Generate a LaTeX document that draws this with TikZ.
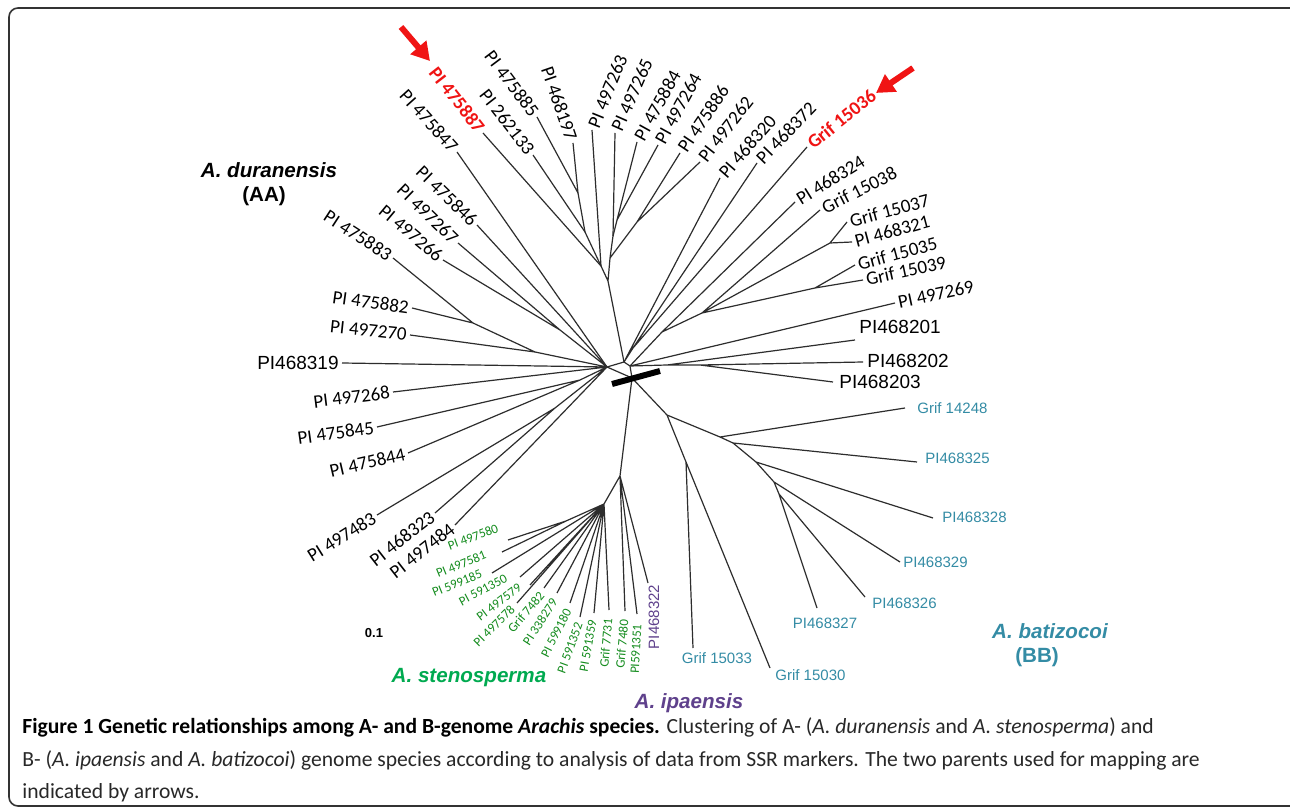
\documentclass[tikz,border=0pt]{standalone}
\usepackage{fontspec}
\setmainfont{Carlito}
\newfontfamily\calib{Carlito}
\newfontfamily\arial{Liberation Sans}
\usetikzlibrary{arrows.meta}
\definecolor{brc}{RGB}{45,45,45}
\definecolor{tealc}{RGB}{52,140,165}
\definecolor{grnl}{RGB}{20,140,30}
\definecolor{grnsp}{RGB}{0,170,80}
\definecolor{purc}{RGB}{95,65,140}
\definecolor{redc}{RGB}{240,20,20}
\definecolor{capc}{RGB}{40,40,40}
\begin{document}
\begin{tikzpicture}[x=0.5pt,y=-0.5pt,
 br/.style={draw=brc,line width=0.6pt},
 blk/.style={font=\calib\fontsize{9.5}{11}\selectfont,inner sep=1.5pt},
 redl/.style={font=\calib\bfseries\fontsize{9.5}{11}\selectfont,text=redc,inner sep=1.5pt},
 ari/.style={font=\arial\fontsize{9.5}{11}\selectfont,inner sep=1.5pt},
 blu/.style={font=\arial\fontsize{7.5}{9}\selectfont,text=tealc,inner sep=1.5pt},
 grn/.style={font=\calib\fontsize{6.5}{8}\selectfont,text=grnl,inner sep=0pt},
 pur/.style={font=\arial\fontsize{7.5}{9}\selectfont,text=purc,inner sep=0pt},
 spc/.style={font=\arial\bfseries\itshape\fontsize{10.3}{12}\selectfont,inner sep=0pt},
 spu/.style={font=\arial\bfseries\fontsize{10.3}{12}\selectfont,inner sep=0pt},
 redarrow/.style={draw=redc,line width=3pt,-{Triangle[length=9pt,width=10pt]}},
 capl/.style={font=\calib\fontsize{10.8}{12}\selectfont,text=capc,anchor=base west,inner sep=0pt}]
\useasboundingbox (0,0) rectangle (1290,812);
\begin{scope}
\clip (0,0) rectangle (1290,812);
\fill[white] (0,0) rectangle (1290,812);
\draw[line width=0.8pt,black!80,rounded corners=4.5pt] (9,8) rectangle (1302,806);
\end{scope}

% ---------- internal nodes ----------
\coordinate (HL) at (607,367);
\coordinate (HT) at (624,362);
\coordinate (HR) at (630,366);
\coordinate (HB) at (632,378);
\coordinate (U0) at (608,281);
\coordinate (U1) at (601,266);
\coordinate (U3) at (610,258);
\coordinate (U2) at (613,236);
\coordinate (U5) at (617,220);
\coordinate (U4) at (637,222);
\coordinate (U7) at (585,232);
\coordinate (U8) at (578,193);
\coordinate (R1) at (633,348);
\coordinate (R2) at (662,332);
\coordinate (R3) at (702,313);
\coordinate (F1) at (830,243);
\coordinate (F2) at (815,288);
\coordinate (R4) at (667,365);
\coordinate (R5) at (700,365);
\coordinate (L1) at (473,323);
\coordinate (L2) at (535,352);
\coordinate (L3) at (560,330);
\coordinate (L5) at (580,380);
\coordinate (L6) at (555,408);
\coordinate (Bt1) at (667,415);
\coordinate (Bt2) at (686,462);
\coordinate (Bt3) at (720,437);
\coordinate (Bt4) at (733,443);
\coordinate (Bt5) at (756,462);
\coordinate (Bt6) at (774,482);
\coordinate (Bt7) at (779,494);
\coordinate (B1) at (620,476);
\coordinate (S1) at (604,504);
\coordinate (S2) at (566,521);

% ---------- leaves: A. duranensis, top ----------
\coordinate (pA1) at (457,152); \node[blk,rotate=-48,anchor=east] (nA1) at (pA1) {PI 475847};
\coordinate (pA2) at (483,133); \node[redl,rotate=-52,anchor=east] (nA2) at (pA2) {PI 475887};
\coordinate (pA3) at (533,155); \node[blk,rotate=-52,anchor=east] (nA3) at (pA3) {PI 262133};
\coordinate (pA4) at (537,117); \node[blk,rotate=-53,anchor=east] (nA4) at (pA4) {PI 475885};
\coordinate (pA5) at (573,143); \node[blk,rotate=-71,anchor=east] (nA5) at (pA5) {PI 468197};
\coordinate (pA6) at (592,130); \node[blk,rotate=68,anchor=west] (nA6) at (pA6) {PI 497263};
\coordinate (pA7) at (615,133); \node[blk,rotate=66,anchor=west] (nA7) at (pA7) {PI 497265};
\coordinate (pA8) at (637,142); \node[blk,rotate=61,anchor=west] (nA8) at (pA8) {PI 475884};
\coordinate (pA9) at (658,145); \node[blk,rotate=61,anchor=west] (nA9) at (pA9) {PI 497264};
\coordinate (pA10) at (680,153); \node[blk,rotate=56,anchor=west] (nA10) at (pA10) {PI 475886};
\coordinate (pA11) at (700,162); \node[blk,rotate=52,anchor=west] (nA11) at (pA11) {PI 497262};
\coordinate (pA12) at (720,178); \node[blk,rotate=49,anchor=west] (nA12) at (pA12) {PI 468320};
\coordinate (pA13) at (757,163); \node[blk,rotate=46,anchor=west] (nA13) at (pA13) {PI 468372};
\coordinate (pA14) at (807,147); \node[redl,rotate=39,anchor=west] (nA14) at (pA14) {Grif 15036};
\coordinate (pA15) at (795,202); \node[blk,rotate=32,anchor=west] (nA15) at (pA15) {PI 468324};
\coordinate (pA16) at (820,210); \node[blk,rotate=27,anchor=west] (nA16) at (pA16) {Grif 15038};
\coordinate (pA17) at (847,222); \node[blk,rotate=15,anchor=west] (nA17) at (pA17) {Grif 15037};
\coordinate (pA18) at (852,242); \node[blk,rotate=15,anchor=west] (nA18) at (pA18) {PI 468321};
\coordinate (pA19) at (855,265); \node[blk,rotate=15,anchor=west] (nA19) at (pA19) {Grif 15035};
\coordinate (pA20) at (863,280); \node[blk,rotate=12,anchor=west] (nA20) at (pA20) {Grif 15039};
\coordinate (pA21) at (895,303); \node[blk,rotate=12,anchor=west] (nA21) at (pA21) {PI 497269};
\coordinate (pA22) at (855,340); \node[ari,anchor=west] (nA22) at (856,327) {PI468201};
\coordinate (pA23) at (863,362); \node[ari,anchor=west] (nA23) at (864,361) {PI468202};
\coordinate (pA24) at (833,382); \node[ari,anchor=west] (nA24) at (836,382) {PI468203};

% ---------- leaves: A. duranensis, left ----------
\coordinate (pL1) at (477,225); \node[blk,rotate=-44,anchor=east] (nL1) at (pL1) {PI 475846};
\coordinate (pL2) at (458,243); \node[blk,rotate=-44,anchor=east] (nL2) at (pL2) {PI 497267};
\coordinate (pL3) at (443,260); \node[blk,rotate=-40,anchor=east] (nL3) at (pL3) {PI 497266};
\coordinate (pL4) at (393,258); \node[blk,rotate=-33,anchor=east] (nL4) at (pL4) {PI 475883};
\coordinate (pL5) at (412,308); \node[blk,rotate=-8,anchor=east] (nL5) at (pL5) {PI 475882};
\coordinate (pL6) at (410,335); \node[blk,rotate=-6,anchor=east] (nL6) at (pL6) {PI 497270};
\coordinate (pL7) at (342,363); \node[ari,anchor=east] (nL7) at (pL7) {PI468319};
\coordinate (pL8) at (393,392); \node[blk,rotate=7,anchor=east] (nL8) at (pL8) {PI 497268};
\coordinate (pL9) at (377,427); \node[blk,rotate=8,anchor=east] (nL9) at (pL9) {PI 475845};
\coordinate (pL10) at (408,453); \node[blk,rotate=13,anchor=east] (nL10) at (pL10) {PI 475844};
\coordinate (pL11) at (377,515); \node[blk,rotate=32,anchor=east] (nL11) at (pL11) {PI 497483};
\coordinate (pL12) at (435,513); \node[blk,rotate=38,anchor=east] (nL12) at (pL12) {PI 468323};
\coordinate (pL13) at (455,525); \node[blk,rotate=38,anchor=east] (nL13) at (pL13) {PI 497484};

% ---------- leaves: B genome ----------
\coordinate (pB1) at (693,648); \node[blu,anchor=north] (nB1) at (717,649) {Grif 15033};
\coordinate (pB2) at (770,668); \node[blu,anchor=west] (nB2) at (772,675) {Grif 15030};
\coordinate (pB3) at (905,408); \node[blu,anchor=west] (nB3) at (914,408) {Grif 14248};
\coordinate (pB4) at (917,462); \node[blu,anchor=west] (nB4) at (922,458) {PI468325};
\coordinate (pB5) at (933,518); \node[blu,anchor=west] (nB5) at (939,517) {PI468328};
\coordinate (pB6) at (900,562); \node[blu,anchor=west] (nB6) at (900,562) {PI468329};
\coordinate (pB7) at (865,597); \node[blu,anchor=west] (nB7) at (869,603) {PI468326};
\coordinate (pB8) at (817,608); \node[blu,anchor=north] (nB8) at (825,615) {PI468327};
\coordinate (pP) at (648,583); \node[pur,rotate=90] (nP) at (654,617) {PI468322};

% ---------- leaves: A. stenosperma ----------
\coordinate (g1) at (508,540); \node[grn,rotate=20] (ng1) at (473,537) {PI 497580};
\coordinate (g2) at (502,552); \node[grn,rotate=22] (ng2) at (461,564) {PI 497581};
\coordinate (g3) at (492,573); \node[grn,rotate=22] (ng3) at (457,583) {PI 599185};
\coordinate (g4) at (520,577); \node[grn,rotate=28] (ng4) at (483,590) {PI 591350};
\coordinate (g5) at (530,585); \node[grn,rotate=37] (ng5) at (499,602) {PI 497579};
\coordinate (g6) at (517,603); \node[grn,rotate=45] (ng6) at (494,626) {PI 497578};
\coordinate (g7) at (544,588); \node[grn,rotate=50] (ng7) at (526,612) {Grif 7482};
\coordinate (g8) at (557,593); \node[grn,rotate=57] (ng8) at (540,622) {PI 338279};
\coordinate (g9) at (570,603); \node[grn,rotate=63] (ng9) at (556,633) {PI 599180};
\coordinate (g10) at (580,617); \node[grn,rotate=70] (ng10) at (570,648) {PI 591352};
\coordinate (g11) at (594,613); \node[grn,rotate=80] (ng11) at (588,646) {PI 591359};
\coordinate (g12) at (609,610); \node[grn,rotate=85] (ng12) at (606,643) {Grif 7731};
\coordinate (g13) at (625,611); \node[grn,rotate=85] (ng13) at (622,644) {Grif 7480};
\coordinate (g14) at (637,614); \node[grn,rotate=87] (ng14) at (636,649) {PI591351};

% ---------- branches ----------
\draw[br] (HL) -- (HT) -- (HR) -- (HB) -- (HL);
\draw[br] (HT) -- (U0) (U0) -- (U1) (U0) -- (U3) (U3) -- (U2) (U3) -- (U4) (U2) -- (U5)
  (U1) -- (U7) (U7) -- (U8);
\draw[br] (U1) -- (pA2) (U7) -- (pA3) (U8) -- (pA4) (U8) -- (pA5) (U1) -- (pA6)
  (U2) -- (pA7) (U5) -- (pA8) (U5) -- (pA9) (U4) -- (pA10) (U4) -- (pA11);
\draw[br] (HL) -- (pA1);
\draw[br] (HT) -- (pA12) (HT) -- (R1) (R1) -- (pA13) (R1) -- (pA14);
\draw[br] (HR) -- (R2) (R2) -- (pA15) (R2) -- (R3) (R3) -- (pA16) (R3) -- (F1)
  (F1) -- (pA17) (F1) -- (pA18) (R3) -- (F2) (F2) -- (pA19) (F2) -- (pA20);
\draw[br] (HR) -- (pA21) (HR) -- (R4) (R4) -- (R5) (R5) -- (pA23) (R4) -- (pA22) (R5) -- (pA24);
\draw[br] (HL) -- (pL1) (HL) -- (L3) (L3) -- (pL2) (L3) -- (pL3) (HL) -- (L2) (L2) -- (L1)
  (L1) -- (pL4) (L1) -- (pL5) (L2) -- (pL6) (HL) -- (pL7) (HL) -- (pL8) (HL) -- (L5)
  (L5) -- (pL9) (L5) -- (pL10) (HL) -- (L6) (L6) -- (pL11) (L6) -- (pL12) (HL) -- (pL13);
\draw[br] (HB) -- (Bt1) (Bt1) -- (Bt2) (Bt2) -- (pB1) (Bt2) -- (pB2) (Bt1) -- (Bt3)
  (Bt3) -- (pB3) (Bt3) -- (Bt4) (Bt4) -- (pB4) (Bt4) -- (Bt5) (Bt5) -- (pB5) (Bt5) -- (Bt6)
  (Bt6) -- (pB6) (Bt6) -- (Bt7) (Bt7) -- (pB7) (Bt7) -- (pB8);
\draw[br] (HB) -- (B1) (B1) -- (S1) (S1) -- (S2) (S2) -- (g1) (S2) -- (g2)
  (S1) -- (g3) (S1) -- (g4) (S1) -- (g5) (S1) -- (g6) (S1) -- (g7) (S1) -- (g8)
  (S1) -- (g9) (S1) -- (g10) (S1) -- (g11) (S1) -- (g12)
  (B1) -- (g13) (B1) -- (g14) (B1) -- (pP);

% ---------- scale bar ----------
\coordinate (bar1) at (612,384); \coordinate (bar2) at (660,371);
\draw[line width=3pt] (bar1) -- (bar2);
\node[font=\arial\bfseries\fontsize{6.5}{8}\selectfont,inner sep=0pt] (sc) at (374,633) {0.1};

% ---------- species ----------
\node[spc] (spA) at (269,170) {A. duranensis};
\node[spu] (spAA) at (264,196) {(AA)};
\node[spc,text=grnsp] (spS) at (469,678) {A. stenosperma};
\node[spc,text=purc] (spI) at (689,703) {A. ipaensis};
\node[spc,text=tealc] (spB) at (1050,631) {A. batizocoi};
\node[spu,text=tealc] (spBB) at (1037,657) {(BB)};

% ---------- arrows ----------
\coordinate (ar1a) at (401,27); \coordinate (ar1b) at (430,61);
\draw[redarrow] (ar1a) -- (ar1b);
\coordinate (ar2a) at (913,68); \coordinate (ar2b) at (876,93);
\draw[redarrow] (ar2a) -- (ar2b);

% ---------- caption ----------
\node[capl] (c1) at (22,733) {\textbf{\color{black}Figure 1 Genetic relationships among A- and B-genome \textit{Arachis} species.} Clustering of A- (\textit{A. duranensis} and \textit{A. stenosperma}) and};
\node[capl] (c2) at (22,766) {B- (\textit{A. ipaensis} and \textit{A. batizocoi}) genome species according to analysis of data from SSR markers. The two parents used for mapping are};
\node[capl] (c3) at (22,798) {indicated by arrows.};
\end{tikzpicture}
\end{document}
